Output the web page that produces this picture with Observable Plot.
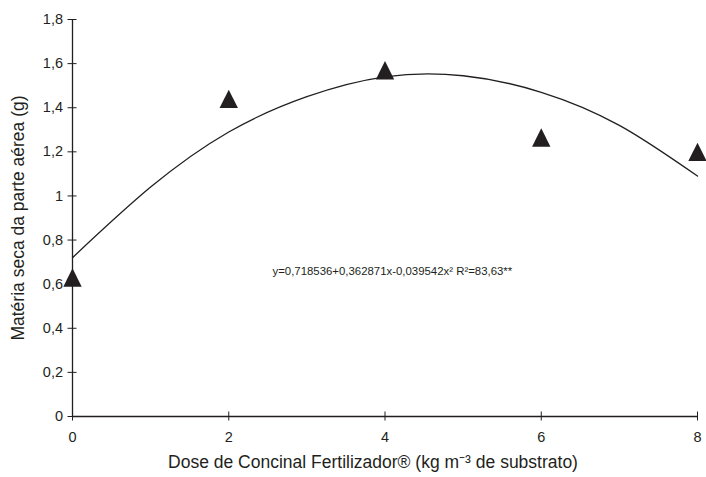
<!DOCTYPE html>
<html>
<head>
<meta charset="utf-8">
<script src="https://cdn.jsdelivr.net/npm/d3@7"></script>
<script src="https://cdn.jsdelivr.net/npm/@observablehq/plot@0.6"></script>
<style>
  html, body { margin: 0; padding: 0; background: #fff; }
  svg { display: block; }
</style>
</head>
<body>
<div id="chart"></div>
<script>
// Observed data (triangles)
const doses = [0, 2, 4, 6, 8];
const drymass = [0.63, 1.44, 1.57, 1.265, 1.20];

// Fitted curve
const curveX = [0, 1, 2, 3, 4, 5, 6, 7, 8];
const curveY = [0.72, 1.04, 1.29, 1.45, 1.54, 1.545, 1.47, 1.32, 1.09];

// Tick values and labels
const xTicks = [0, 2, 4, 6, 8];
const xTickLabels = ["0", "2", "4", "6", "8"];
const yTicks = [0, 0.2, 0.4, 0.6, 0.8, 1, 1.2, 1.4, 1.6, 1.8];
const yTickLabels = ["0", "0,2", "0,4", "0,6", "0,8", "1", "1,2", "1,4", "1,6", "1,8"];

const xLabel = "Dose de Concinal Fertilizador® (kg m\u207B\u00B3 de substrato)";
const yLabel = "Matéria seca da parte aérea (g)";
const equation = "y=0,718536+0,362871x-0,039542x\u00B2 R\u00B2=83,63**";
const eqPos = { x: 2.56, y: 0.66 };

const points = doses.map((d, i) => ({ x: d, y: drymass[i] }));
const curve = curveX.map((d, i) => ({ x: d, y: curveY[i] }));

const tri = {
  draw(context, size) {
    const h = 9.2, w = 9.2;
    context.moveTo(0, -h);
    context.lineTo(w, h);
    context.lineTo(-w, h);
    context.closePath();
  }
};

const ink = "#231f20";

const chart = Plot.plot({
  width: 706,
  height: 477,
  marginLeft: 72,
  marginRight: 9,
  marginTop: 19,
  marginBottom: 61,
  style: { fontFamily: "'Liberation Sans', Arial, Helvetica, sans-serif", color: ink, background: "#fff" },
  x: { domain: [0, 8] },
  y: { domain: [0, 1.8] },
  marks: [
    Plot.axisX({
      ticks: xTicks,
      tickFormat: d => xTickLabels[xTicks.indexOf(d)],
      tickSize: 9, dy: -4.5, tickPadding: 11,
      fontSize: 14.5, stroke: ink, label: null
    }),
    Plot.axisY({
      ticks: yTicks,
      tickFormat: d => yTickLabels[yTicks.indexOf(d)],
      tickSize: 9, dx: 4.5, tickPadding: 5,
      fontSize: 14.5, stroke: ink, label: null
    }),
    Plot.ruleX([0], { stroke: ink, strokeWidth: 1.3 }),
    Plot.ruleY([0], { stroke: ink, strokeWidth: 1.3 }),
    Plot.line(curve, { x: "x", y: "y", curve: "natural", stroke: ink, strokeWidth: 1.3 }),
    Plot.dot(points, { x: "x", y: "y", symbol: tri, fill: ink, stroke: "none", r: 9 }),
    Plot.text([equation], {
      x: eqPos.x, y: eqPos.y, text: d => d, textAnchor: "start",
      fontSize: 11.4, fill: ink
    }),
    Plot.text([xLabel], {
      frameAnchor: "bottom", textAnchor: "middle", dx: -12, dy: 51, text: d => d,
      fontSize: 17.5, fill: ink
    }),
    Plot.text([yLabel], {
      frameAnchor: "left", textAnchor: "middle", dx: -54, rotate: -90, text: d => d,
      fontSize: 17.5, fill: ink
    })
  ]
});

document.getElementById("chart").appendChild(chart);
</script>
</body>
</html>
